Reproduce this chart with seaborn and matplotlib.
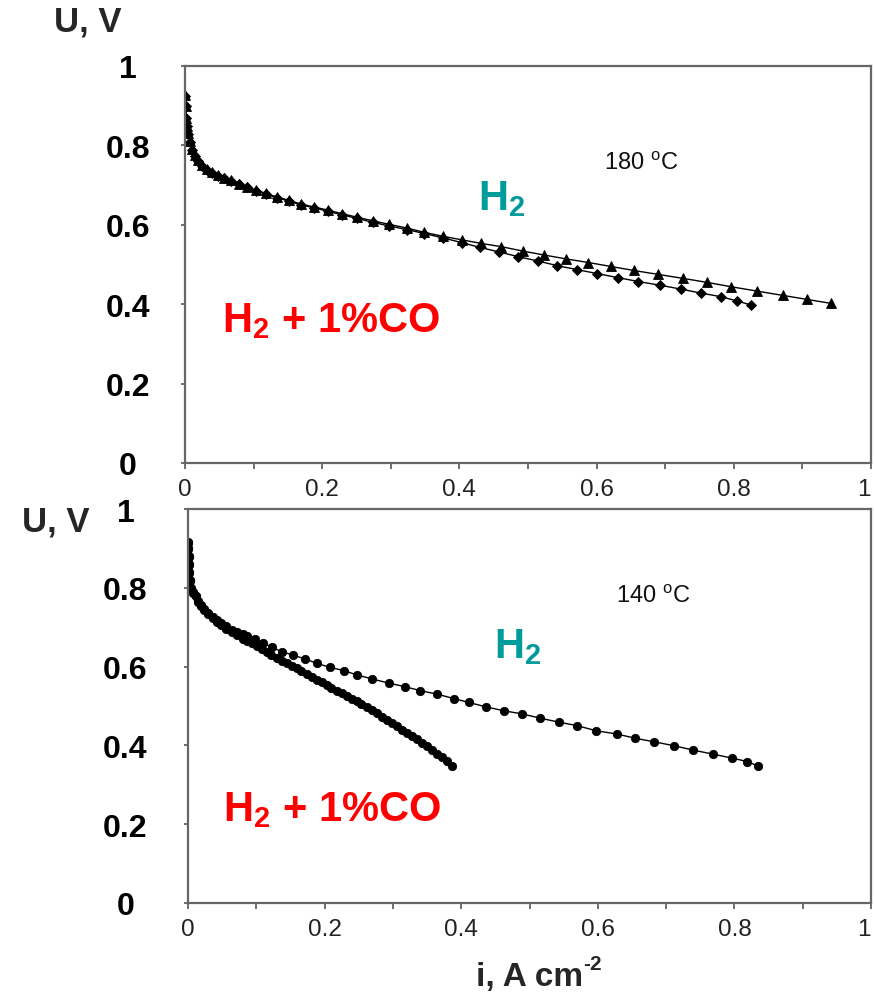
import matplotlib
matplotlib.use("Agg")
import matplotlib.pyplot as plt
from matplotlib.text import Annotation
import seaborn as sns
import numpy as np

# ---------------- data ----------------
# 180 °C panel
i_180_h2 = [0.000, 0.001, 0.002, 0.003, 0.005, 0.007, 0.010, 0.014, 0.019, 0.025, 0.032, 0.040,
            0.048, 0.057, 0.067, 0.078, 0.090, 0.103, 0.118, 0.134, 0.151, 0.169, 0.188, 0.208,
            0.229, 0.251, 0.274, 0.298, 0.323, 0.349, 0.376, 0.404, 0.432, 0.461, 0.492, 0.523,
            0.556, 0.588, 0.621, 0.654, 0.690, 0.726, 0.761, 0.796, 0.834, 0.872, 0.907, 0.942]
u_180_h2 = [0.927, 0.900, 0.870, 0.850, 0.830, 0.810, 0.790, 0.775, 0.762, 0.750, 0.740, 0.733,
            0.726, 0.719, 0.712, 0.704, 0.696, 0.688, 0.679, 0.670, 0.662, 0.652, 0.645, 0.637,
            0.628, 0.619, 0.610, 0.601, 0.592, 0.581, 0.571, 0.562, 0.553, 0.545, 0.534, 0.524,
            0.514, 0.505, 0.495, 0.485, 0.475, 0.465, 0.455, 0.444, 0.433, 0.422, 0.412, 0.402]

i_180_co = [0.000, 0.001, 0.002, 0.003, 0.005, 0.007, 0.010, 0.014, 0.019, 0.025, 0.032, 0.040,
            0.048, 0.057, 0.067, 0.078, 0.090, 0.103, 0.118, 0.134, 0.151, 0.169, 0.188, 0.208,
            0.229, 0.251, 0.274, 0.298, 0.323, 0.349, 0.376, 0.404, 0.430, 0.457, 0.485, 0.514,
            0.543, 0.572, 0.601, 0.631, 0.661, 0.692, 0.723, 0.752, 0.781, 0.805, 0.825]
u_180_co = [0.925, 0.898, 0.868, 0.848, 0.828, 0.808, 0.788, 0.773, 0.760, 0.748, 0.738, 0.731,
            0.724, 0.717, 0.710, 0.702, 0.694, 0.686, 0.677, 0.668, 0.660, 0.650, 0.643, 0.634,
            0.625, 0.616, 0.606, 0.597, 0.588, 0.578, 0.567, 0.555, 0.543, 0.532, 0.520, 0.509,
            0.497, 0.487, 0.477, 0.467, 0.457, 0.448, 0.438, 0.428, 0.419, 0.408, 0.398]

# 140 °C panel
i_140_h2 = [0.000, 0.000, 0.001, 0.001, 0.002, 0.003, 0.005, 0.008, 0.011, 0.015, 0.019, 0.024,
            0.030, 0.036, 0.042, 0.049, 0.056, 0.064, 0.072, 0.080, 0.086, 0.098, 0.110, 0.123,
            0.137, 0.154, 0.172, 0.189, 0.208, 0.228, 0.247, 0.269, 0.294, 0.318, 0.340, 0.365,
            0.389, 0.411, 0.436, 0.462, 0.489, 0.516, 0.543, 0.570, 0.598, 0.628, 0.655, 0.683,
            0.712, 0.740, 0.768, 0.796, 0.819, 0.834]
u_140_h2 = [0.916, 0.900, 0.880, 0.860, 0.840, 0.820, 0.800, 0.790, 0.780, 0.767, 0.756, 0.746,
            0.735, 0.726, 0.718, 0.710, 0.702, 0.694, 0.688, 0.682, 0.677, 0.670, 0.660, 0.649,
            0.638, 0.629, 0.619, 0.608, 0.598, 0.590, 0.579, 0.569, 0.558, 0.549, 0.539, 0.530,
            0.519, 0.509, 0.498, 0.488, 0.480, 0.469, 0.459, 0.450, 0.437, 0.429, 0.418, 0.409,
            0.399, 0.388, 0.378, 0.368, 0.359, 0.348]

i_140_co = [0.000, 0.000, 0.001, 0.001, 0.002, 0.003, 0.005, 0.008, 0.011, 0.015, 0.019, 0.024,
            0.030, 0.036, 0.042, 0.049, 0.056, 0.064, 0.072, 0.080, 0.086, 0.093, 0.101, 0.108,
            0.115, 0.122, 0.130, 0.137, 0.145, 0.152, 0.159, 0.166, 0.174, 0.181, 0.189, 0.196,
            0.203, 0.210, 0.218, 0.225, 0.233, 0.240, 0.247, 0.254, 0.262, 0.269, 0.277, 0.284,
            0.291, 0.298, 0.306, 0.313, 0.321, 0.328, 0.335, 0.342, 0.350, 0.357, 0.365, 0.372,
            0.379, 0.387]
u_140_co = [0.914, 0.898, 0.878, 0.858, 0.838, 0.818, 0.798, 0.788, 0.778, 0.765, 0.754, 0.744,
            0.733, 0.723, 0.714, 0.705, 0.696, 0.687, 0.679, 0.671, 0.666, 0.659, 0.653, 0.645,
            0.638, 0.630, 0.623, 0.615, 0.608, 0.602, 0.596, 0.588, 0.581, 0.574, 0.567, 0.560,
            0.553, 0.546, 0.539, 0.532, 0.526, 0.519, 0.512, 0.505, 0.497, 0.489, 0.481, 0.473,
            0.465, 0.458, 0.450, 0.440, 0.431, 0.423, 0.415, 0.406, 0.398, 0.388, 0.378, 0.370,
            0.361, 0.347]

x_ticks = [0, 0.2, 0.4, 0.6, 0.8, 1]
x_ticklabels = ["0", "0.2", "0.4", "0.6", "0.8", "1"]
y_ticks = [0, 0.2, 0.4, 0.6, 0.8, 1]
y_ticklabels = ["0", "0.2", "0.4", "0.6", "0.8", "1"]

# ---------------- styling ----------------
sns.set_theme(style="white")
plt.rcParams['font.family'] = ['Liberation Sans', 'DejaVu Sans']
plt.rcParams['mathtext.fontset'] = 'custom'
plt.rcParams['mathtext.rm'] = 'Liberation Sans'
plt.rcParams['mathtext.bf'] = 'Liberation Sans:bold'
plt.rcParams['mathtext.it'] = 'Liberation Sans:italic'

W, H = 874, 1003
fig = plt.figure(figsize=(W / 100, H / 100), dpi=100)
fig.patch.set_facecolor("white")

def px_rect(left, top, right, bottom):
    return [left / W, 1 - bottom / H, (right - left) / W, (bottom - top) / H]

ax1 = fig.add_axes(px_rect(185, 67, 871, 464))
ax2 = fig.add_axes(px_rect(188, 510, 871, 904))

sns.lineplot(x=i_180_h2, y=u_180_h2, ax=ax1, sort=False, estimator=None, color="black",
             lw=1.0, marker="^", markersize=6.5, markeredgecolor="black", markeredgewidth=0.6)
sns.lineplot(x=i_180_co, y=u_180_co, ax=ax1, sort=False, estimator=None, color="black",
             lw=1.0, marker="D", markersize=4.8, markeredgecolor="black", markeredgewidth=0.6)

sns.lineplot(x=i_140_h2, y=u_140_h2, ax=ax2, sort=False, estimator=None, color="black",
             lw=1.0, marker="o", markersize=6, markeredgecolor="black", markeredgewidth=0.6)
sns.lineplot(x=i_140_co, y=u_140_co, ax=ax2, sort=False, estimator=None, color="black",
             lw=2.2, marker="o", markersize=6, markeredgecolor="black", markeredgewidth=0.6)

for ax, ypad in ((ax1, 38), (ax2, 42)):
    ax.set_xlim(0, 1)
    ax.set_ylim(0, 1)
    ax.set_xticks(x_ticks)
    ax.set_xticklabels(x_ticklabels, fontsize=17.5, color="#222222")
    ax.set_xticks(np.arange(0.1, 1.0, 0.2), minor=True)
    ax.set_yticks(y_ticks)
    ax.set_yticklabels(y_ticklabels, fontsize=23, fontweight="bold", color="black", ha="center")
    ax.tick_params(axis="x", which="both", direction="out", length=4, width=1.2,
                   color="#555555", pad=7, bottom=True)
    ax.tick_params(axis="y", which="both", direction="out", length=3, width=1.2,
                   color="#555555", pad=ypad, left=True)
    # the last x label sits at the figure edge: right-align so it stays visible
    xt = ax.get_xticklabels()
    xt[-1].set_horizontalalignment("right")
    for sp in ax.spines.values():
        sp.set_visible(True)
        sp.set_color("#666666")
        sp.set_linewidth(1.6)
    ax.set_xlabel("")
    ax.set_ylabel("")
    ax.grid(False)

# annotations (figure pixel coordinates)
def ftext(x, y, s, **kw):
    return fig.text(x / W, 1 - y / H, s, **kw)

ftext(88, 22, "U, V", fontsize=25, fontweight="bold", ha="center", va="center")
ftext(56, 522, "U, V", fontsize=25, fontweight="bold", ha="center", va="center")

xl = ftext(530, 978, "i, A cm", fontsize=24, fontweight="bold", ha="center", va="center")
fig.add_artist(Annotation("-2", xy=(1.0, 0.95), xycoords=xl,
                          xytext=(-0.5, 0), textcoords="offset points",
                          fontsize=15, fontweight="bold", ha="left", va="center"))

ftext(641, 164, r"180 $^{\mathrm{o}}$C", fontsize=17, ha="center", va="center", color="#111111")
ftext(653, 597, r"140 $^{\mathrm{o}}$C", fontsize=17, ha="center", va="center", color="#111111")

teal = "#009B9B"
ftext(478, 210, r"H$_{\mathbf{2}}$", fontsize=30, fontweight="bold", color=teal,
      ha="left", va="baseline")
ftext(494, 658, r"H$_{\mathbf{2}}$", fontsize=30, fontweight="bold", color=teal,
      ha="left", va="baseline")

ftext(222, 332, r"H$_{\mathbf{2}}$ + 1%CO", fontsize=30, fontweight="bold", color="#FF0000",
      ha="left", va="baseline")
ftext(223, 821, r"H$_{\mathbf{2}}$ + 1%CO", fontsize=30, fontweight="bold", color="#FF0000",
      ha="left", va="baseline")

fig.savefig("out.png", dpi=100, facecolor="white")
